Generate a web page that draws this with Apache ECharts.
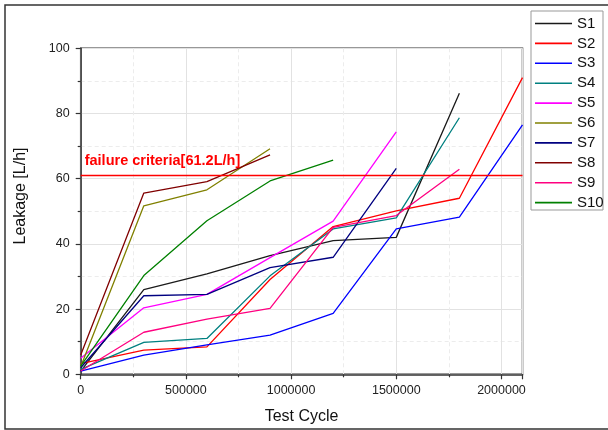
<!DOCTYPE html>
<html>
<head>
<meta charset="utf-8">
<script src="https://cdn.jsdelivr.net/npm/echarts@6/dist/echarts.min.js"></script>
<style>
html,body{margin:0;padding:0;background:#fff;}
#chart{width:608px;height:430px;}
</style>
</head>
<body>
<div id="chart"></div>
<script>
// Data
const cycles = [0, 300000, 600000, 900000, 1200000, 1500000, 1800000, 2100000];
const S1  = [1.0, 26.0, 30.8, 36.4, 41.0, 42.0, 86.2];
const S2  = [3.3, 7.4, 8.4, 29.1, 45.3, 50.1, 54.0, 91.0];
const S3  = [1.0, 5.9, 9.0, 12.0, 18.7, 44.6, 48.2, 76.5];
const S4  = [1.5, 9.8, 11.0, 30.2, 44.6, 48.0, 78.7];
const S5  = [4.9, 20.4, 24.5, 35.8, 47.0, 74.4];
const S6  = [2.3, 51.7, 56.6, 69.2];
const S7  = [2.0, 24.1, 24.5, 32.7, 35.9, 63.2];
const S8  = [5.9, 55.6, 59.1, 67.3];
const S9  = [1.0, 12.9, 16.9, 20.2, 45.1, 48.7, 62.9];
const S10 = [2.5, 30.3, 47.1, 59.3, 65.7];
const seriesNames = ['S1','S2','S3','S4','S5','S6','S7','S8','S9','S10'];
const seriesValues = [S1,S2,S3,S4,S5,S6,S7,S8,S9,S10];
const colors = ['#1a1a1a','#ff0000','#0000ff','#008080','#ff00ff','#808000','#000080','#800000','#ff0080','#008000'];
const failureValue = 61.2;
const failureLabel = 'failure criteria[61.2L/h]';
const xTitle = 'Test Cycle';
const yTitle = 'Leakage [L/h]';

const chart = echarts.init(document.getElementById('chart'), null, {renderer:'canvas'});

const series = seriesNames.map((n, i) => ({
  name: n,
  type: 'line',
  symbol: 'none',
  data: seriesValues[i].map((v, j) => [cycles[j], v]),
  lineStyle: {width: 1.3, color: colors[i]},
  itemStyle: {color: colors[i]},
  emphasis: {disabled: true},
  animation: false,
  z: 3
}));
series[1].markLine = {
  silent: true,
  symbol: 'none',
  animation: false,
  lineStyle: {color: '#ff0000', width: 1.3, type: 'solid'},
  label: {
    show: true,
    position: 'insideStartTop',
    formatter: failureLabel,
    color: '#ff0000',
    fontWeight: 'bold',
    fontSize: 14.5,
    fontFamily: 'Liberation Sans, Arial, sans-serif',
    distance: [4, 6]
  },
  data: [{yAxis: failureValue}]
};

const axisFont = {fontSize: 12.5, color: '#222', fontFamily: 'Liberation Sans, Arial, sans-serif'};

chart.setOption({
  backgroundColor: '#fff',
  animation: false,
  color: colors,
  grid: {left: 80.7, right: 85.5, top: 48.3, bottom: 55.7, show: true, borderColor: '#333', borderWidth: 1.5, backgroundColor: 'transparent'},
  xAxis: {
    type: 'value', min: 0, max: 2100000, interval: 500000,
    axisLine: {show: true, lineStyle: {color: '#333', width: 1.5}},
    axisTick: {show: true, length: 5, lineStyle: {color: '#333', width: 1.2}},
    minorTick: {show: true, splitNumber: 2, length: 3, lineStyle: {color: '#333', width: 1.2}},
    splitLine: {show: true, lineStyle: {color: '#e2e2e2', width: 1}},
    minorSplitLine: {show: true, lineStyle: {color: '#ececec', width: 1, type: [4, 3]}},
    axisLabel: Object.assign({margin: 10, showMaxLabel: false, formatter: v => String(v)}, axisFont)
  },
  yAxis: {
    type: 'value', min: 0, max: 100, interval: 20,
    axisLine: {show: true, lineStyle: {color: '#333', width: 1.5}},
    axisTick: {show: true, length: 5, lineStyle: {color: '#333', width: 1.2}},
    minorTick: {show: true, splitNumber: 2, length: 3, lineStyle: {color: '#333', width: 1.2}},
    splitLine: {show: true, lineStyle: {color: '#e2e2e2', width: 1}},
    minorSplitLine: {show: true, lineStyle: {color: '#ececec', width: 1, type: [4, 3]}},
    axisLabel: Object.assign({margin: 11}, axisFont)
  },
  legend: {
    orient: 'vertical',
    left: 535, top: 16,
    icon: 'rect',
    itemWidth: 37, itemHeight: 1.6, itemGap: 4.9,
    padding: 0,
    textStyle: {fontSize: 15, lineHeight: 14, color: '#111', fontFamily: 'Liberation Sans, Arial, sans-serif', padding: [0,0,0,0]},
    data: seriesNames,
    selectedMode: false
  },
  graphic: [
    {type: 'rect', shape: {x: 5, y: 5, width: 640, height: 424}, style: {fill: 'none', stroke: '#333', lineWidth: 1.5}, silent: true, z: 0},
    {type: 'rect', shape: {x: 531, y: 11, width: 72, height: 199}, style: {fill: '#fff', stroke: '#999', lineWidth: 1}, silent: true, z: 1},
    {type: 'text', x: 301.6, y: 416.5, style: {text: xTitle, fontSize: 16, fill: '#111', fontFamily: 'Liberation Sans, Arial, sans-serif', textAlign: 'center', textVerticalAlign: 'middle'}, silent: true},
    {type: 'text', x: 21, y: 196, rotation: Math.PI / 2, style: {text: yTitle, fontSize: 16, fill: '#111', fontFamily: 'Liberation Sans, Arial, sans-serif', textAlign: 'center', textVerticalAlign: 'middle'}, silent: true}
  ],
  series: series
});
</script>
</body>
</html>
